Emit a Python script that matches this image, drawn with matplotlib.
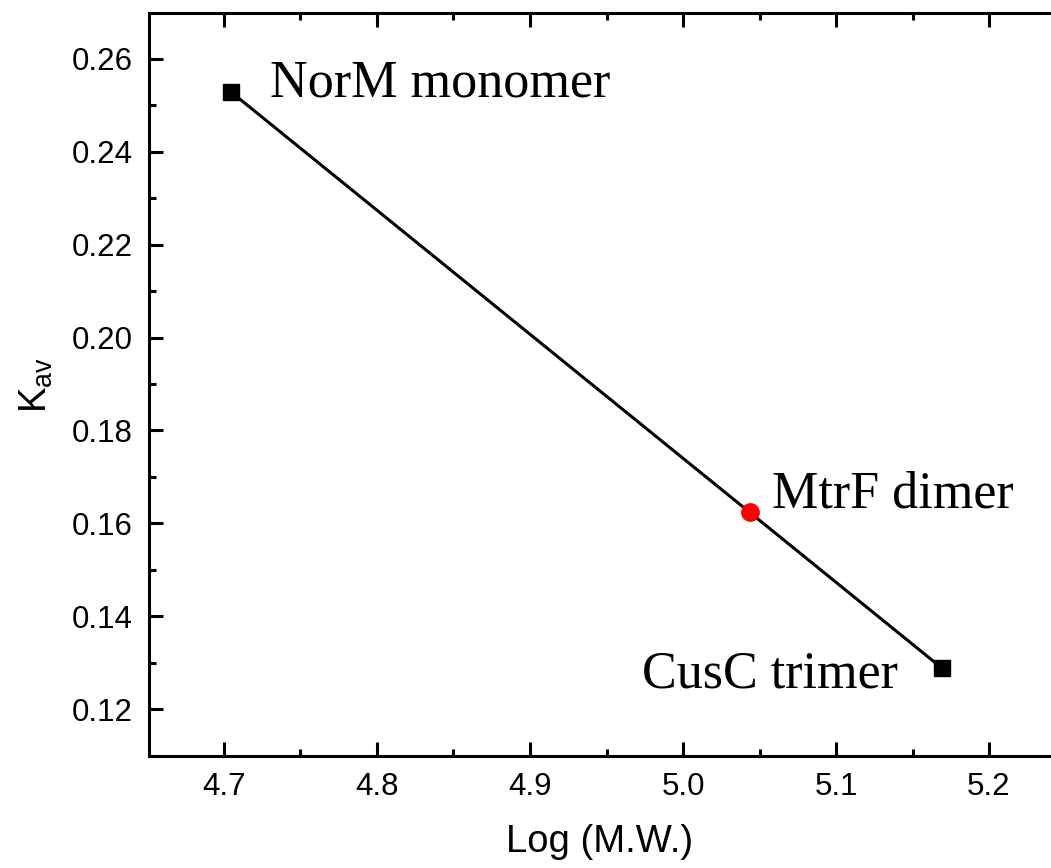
import matplotlib
matplotlib.use("Agg")
import matplotlib.pyplot as plt
from matplotlib.ticker import MultipleLocator

# data
std_names = ["NorM monomer", "CusC trimer"]
std_logmw = [4.7046, 5.1693]
std_kav = [0.2529, 0.1288]
sample_name = "MtrF dimer"
sample_logmw = [5.0438]
sample_kav = [0.1624]

plt.rcParams['font.family'] = ['Liberation Sans', 'DejaVu Sans']

fig = plt.figure(figsize=(10.51, 8.68), dpi=100)
ax = fig.add_axes([149 / 1051, 1 - 756 / 868, (1051 - 149) / 1051, (756 - 13) / 868])

ax.plot(std_logmw, std_kav, color='black', lw=2.2, marker='s', ms=11, zorder=2)
ax.plot(sample_logmw, sample_kav, 'o', color='red', ms=12.5, zorder=3)

# labels next to the points, offsets in points
serif = dict(family='Liberation Serif', fontsize=37.5, va='baseline')
ax.annotate(std_names[0], (std_logmw[0], std_kav[0]), xytext=(28, -3.6),
            textcoords='offset points', ha='left', **serif)
ax.annotate(std_names[1], (std_logmw[1], std_kav[1]), xytext=(-32, -13.7),
            textcoords='offset points', ha='right', **serif)
ax.annotate(sample_name, (sample_logmw[0], sample_kav[0]), xytext=(16, 3.6),
            textcoords='offset points', ha='left', **serif)

ax.set_xlim(4.651, 5.2405)
ax.set_ylim(0.1099, 0.2699)
ax.xaxis.set_major_locator(MultipleLocator(0.1))
ax.xaxis.set_minor_locator(MultipleLocator(0.05))
ax.yaxis.set_major_locator(MultipleLocator(0.02))
ax.yaxis.set_minor_locator(MultipleLocator(0.01))
ax.xaxis.set_major_formatter(plt.FormatStrFormatter('%.1f'))
ax.yaxis.set_major_formatter(plt.FormatStrFormatter('%.2f'))

ax.spines['right'].set_visible(False)
for s in ['left', 'bottom', 'top']:
    ax.spines[s].set_linewidth(2.2)
ax.tick_params(which='both', direction='in', width=2.2, top=True, labelsize=22.5, pad=11.5)
ax.tick_params(which='major', length=10)
ax.tick_params(which='minor', length=5)

ax.set_xlabel('Log (M.W.)', fontsize=27.5, labelpad=16)
ax.set_ylabel('K$_{\\mathregular{av}}$', fontsize=27.5, labelpad=12)

fig.savefig('out.png', dpi=100)
